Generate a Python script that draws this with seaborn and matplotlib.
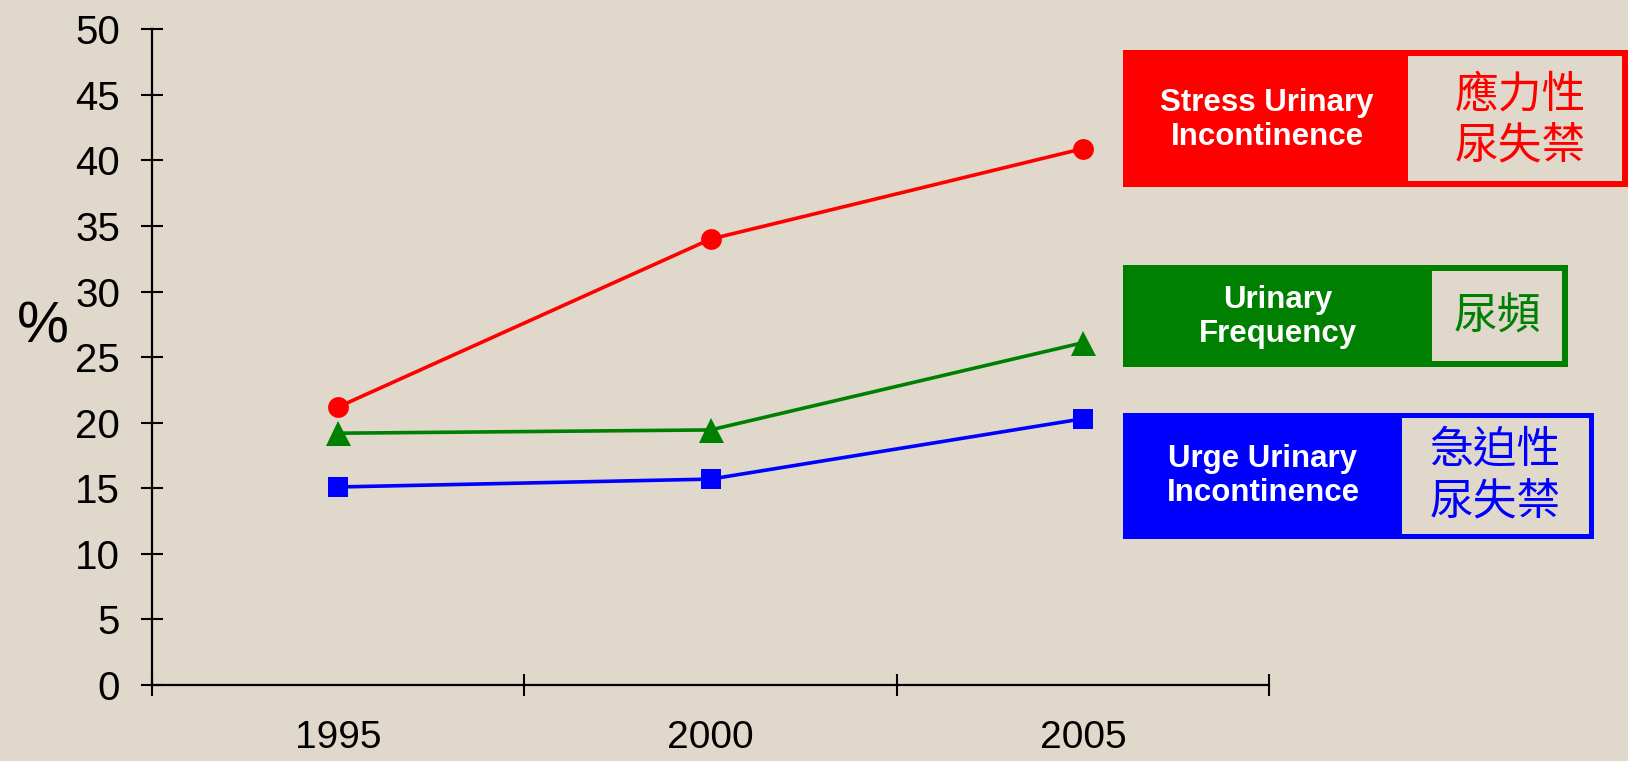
import numpy as np
import pandas as pd
import matplotlib
matplotlib.use("Agg")
import matplotlib.pyplot as plt
from matplotlib.patches import Rectangle
import seaborn as sns

# ---- data ----
years = ["1995", "2000", "2005"]
stress_ui = [21.2, 34.0, 40.9]
frequency = [19.2, 19.45, 26.1]
urge_ui = [15.1, 15.7, 20.3]
series_names = ["Stress Urinary Incontinence", "Urinary Frequency", "Urge Urinary Incontinence"]
series_zh = ["應力性\n尿失禁", "尿頻", "急迫性\n尿失禁"]
series_en = ["Stress Urinary\nIncontinence", "Urinary\nFrequency", "Urge Urinary\nIncontinence"]
y_ticks = [0, 5, 10, 15, 20, 25, 30, 35, 40, 45, 50]

colors = ["#FF0000", "#008000", "#0000FF"]
markers = ["o", "^", "s"]
BG = "#E0D9CB"

sns.set_theme(style="white")
plt.rcParams["font.family"] = ["Liberation Sans", "Noto Sans CJK TC", "DejaVu Sans"]
plt.rcParams["text.color"] = "black"
plt.rcParams["xtick.color"] = "black"
plt.rcParams["ytick.color"] = "black"
plt.rcParams["axes.labelcolor"] = "black"

W, H = 1628, 761
fig = plt.figure(figsize=(W / 100, H / 100), dpi=100, facecolor=BG)
ax = fig.add_axes([152 / W, 1 - 685 / H, (1269 - 152) / W, (685 - 29.3) / H])
ax.set_facecolor(BG)

pos = np.arange(len(years))
rows = []
for name, vals in zip(series_names, [stress_ui, frequency, urge_ui]):
    for p, v in zip(pos, vals):
        rows.append({"pos": p, "value": v, "series": name})
df = pd.DataFrame(rows)

sns.lineplot(data=df, x="pos", y="value", hue="series", style="series",
             palette=dict(zip(series_names, colors)),
             markers=dict(zip(series_names, markers)), dashes=False,
             markersize=15, markeredgewidth=0, linewidth=2.6, legend=False, ax=ax)
# enlarge the triangle marker slightly
for line in ax.get_lines():
    if line.get_marker() == "^":
        line.set_markersize(18)

ax.set_xlim(-0.5, len(years) - 0.5)
ax.set_ylim(0, 50)
ax.set_xlabel("")
ax.set_ylabel("")
for s in ["top", "right"]:
    ax.spines[s].set_visible(False)
for s in ["left", "bottom"]:
    ax.spines[s].set_color("black")
    ax.spines[s].set_linewidth(1.6)

ax.set_yticks(y_ticks)
ax.set_yticklabels([str(t) for t in y_ticks], fontsize=29)
ax.tick_params(axis="y", direction="inout", length=16, width=1.5, color="black",
               labelcolor="black", pad=15, left=True)

ax.set_xticks(np.arange(-0.5, len(years), 1.0))
ax.set_xticklabels([])
ax.set_xticks(pos, minor=True)
ax.set_xticklabels(years, minor=True, fontsize=28)
ax.tick_params(axis="x", which="major", direction="inout", length=16, width=1.5, color="black", bottom=True)
ax.tick_params(axis="x", which="minor", length=0, pad=25.5, labelcolor="black", bottom=True)
ax.grid(False)

fig.text(43 / W, 1 - 327 / H, "%", fontsize=42, ha="center", va="center", color="black")

def px_rect(x0, y0, x1, y1, **kw):
    r = Rectangle((x0 / W, 1 - y1 / H), (x1 - x0) / W, (y1 - y0) / H,
                  transform=fig.transFigure, **kw)
    fig.patches.append(r)

# legend boxes: (outer x0, y0, x1, y1, split x, en center x, zh center x, center y, border)
boxes = [
    (1123, 50, 1628, 187, 1408, 1267, 1520, 120, 6),
    (1123, 265, 1568, 367, 1432, 1278, 1497, 317, 6),
    (1123, 413, 1594, 539, 1402, 1263, 1495, 476, 5),
]
for (x0, y0, x1, y1, xs, xe, xz, yc, b), col, en, zh in zip(boxes, colors, series_en, series_zh):
    px_rect(x0, y0, x1, y1, facecolor=col, edgecolor="none")
    px_rect(xs, y0 + b, x1 - b, y1 - b, facecolor=BG, edgecolor="none")
    fig.text(xe / W, 1 - yc / H, en, color="white", fontsize=22.5, fontweight="bold",
             ha="center", va="center", linespacing=1.2, family="Liberation Sans")
    fig.text(xz / W, 1 - yc / H, zh, color=col, fontsize=31.5,
             ha="center", va="center", linespacing=1.15, family=["Noto Sans CJK TC", "DejaVu Sans"])

fig.savefig("out.png", dpi=100, facecolor=BG)
